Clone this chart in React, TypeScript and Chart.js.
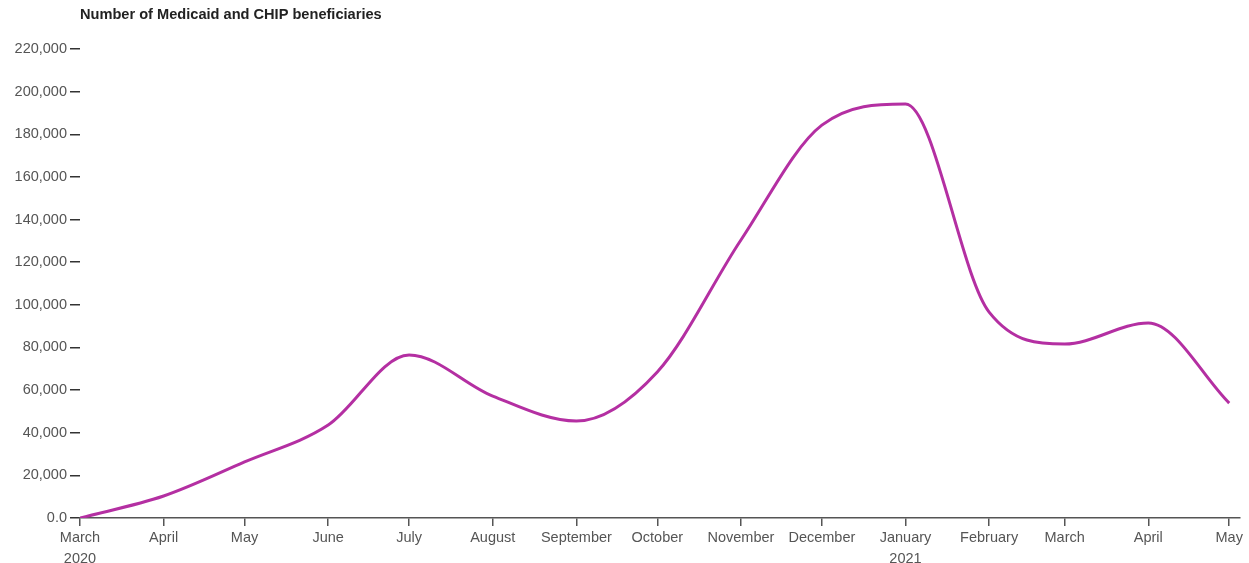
import React, { useEffect, useRef } from "react";
import { Chart, registerables } from "chart.js";

Chart.register(...registerables);

const monthDates = [
  "2020-03-01", "2020-04-01", "2020-05-01", "2020-06-01", "2020-07-01",
  "2020-08-01", "2020-09-01", "2020-10-01", "2020-11-01", "2020-12-01",
  "2021-01-01", "2021-02-01", "2021-03-01", "2021-04-01", "2021-05-01",
];
const monthNames = [
  "March", "April", "May", "June", "July", "August", "September", "October",
  "November", "December", "January", "February", "March", "April", "May",
];
const yearLabels = ["2020", "", "", "", "", "", "", "", "", "", "2021", "", "", "", ""];
const beneficiaries = [
  0, 10300, 26300, 43600, 76500, 57200, 45500, 68500, 130400, 184300,
  194200, 96600, 81600, 91500, 53900,
];
const yTicks = [0, 20000, 40000, 60000, 80000, 100000, 120000, 140000, 160000, 180000, 200000, 220000];

const dayOffset = (s: string) => {
  const [y, m, d] = s.split("-").map(Number);
  const [y0, m0, d0] = monthDates[0].split("-").map(Number);
  return Math.round((Date.UTC(y, m - 1, d) - Date.UTC(y0, m0 - 1, d0)) / 86400000);
};
const xOffsets = monthDates.map(dayOffset);

export default function App() {
  const ref = useRef<HTMLCanvasElement>(null);
  useEffect(() => {
    if (!ref.current) return;
    const font = "Arial, 'Liberation Sans', sans-serif";
    const chart = new Chart(ref.current, {
      type: "line",
      data: {
        datasets: [
          {
            data: xOffsets.map((x, i) => ({ x, y: beneficiaries[i] })),
            borderColor: "#b42fa2",
            borderWidth: 3,
            pointRadius: 0,
            fill: false,
            cubicInterpolationMode: "monotone",
          },
        ],
      },
      options: {
        animation: false,
        responsive: false,
        maintainAspectRatio: false,
        layout: { padding: { left: 0, right: 9, top: 0, bottom: 0 } },
        plugins: {
          legend: { display: false },
          tooltip: { enabled: false },
          title: {
            display: true,
            text: "Number of Medicaid and CHIP beneficiaries",
            align: "start",
            fullSize: false,
            color: "#222",
            font: { family: font, size: 14.6, weight: "bold", lineHeight: 1.2 },
            padding: { top: 6, bottom: 25.5 },
          },
        },
        scales: {
          x: {
            type: "linear",
            min: 0,
            max: xOffsets[xOffsets.length - 1] + 4,
            afterBuildTicks: (scale: any) => {
              scale.ticks = xOffsets.map((v) => ({ value: v }));
            },
            afterFit: (scale: any) => {
              scale.height = 45;
            },
            border: { display: true, color: "#555", width: 1.5 },
            grid: {
              display: true,
              drawOnChartArea: false,
              drawTicks: true,
              tickLength: 8,
              color: "#555",
              lineWidth: 1.5,
            },
            ticks: {
              autoSkip: false,
              maxRotation: 0,
              minRotation: 0,
              padding: 1,
              color: "#555",
              font: { family: font, size: 14.5, lineHeight: 1.45 },
              callback: (value: any) => {
                const i = xOffsets.indexOf(Number(value));
                if (i < 0) return "";
                return yearLabels[i] ? [monthNames[i], yearLabels[i]] : monthNames[i];
              },
            },
          },
          y: {
            type: "linear",
            min: 0,
            max: 220000,
            afterBuildTicks: (scale: any) => {
              scale.ticks = yTicks.map((v) => ({ value: v }));
            },
            afterFit: (scale: any) => {
              scale.width = 80;
            },
            border: { display: false },
            grid: {
              display: true,
              drawOnChartArea: false,
              drawTicks: true,
              tickLength: 10,
              color: "#333",
              lineWidth: 1.5,
            },
            ticks: {
              padding: 3,
              color: "#555",
              font: { family: font, size: 14.5 },
              callback: (value: any) =>
                Number(value) === 0 ? "0.0" : Number(value).toLocaleString("en-US"),
            },
          },
        },
      },
    } as any);
    return () => chart.destroy();
  }, []);
  return (
    <div style={{ position: "fixed", left: 0, top: 0, width: 1249, height: 563, background: "#fff" }}>
      <canvas ref={ref} width={1249} height={563} style={{ width: 1249, height: 563 }} />
    </div>
  );
}
